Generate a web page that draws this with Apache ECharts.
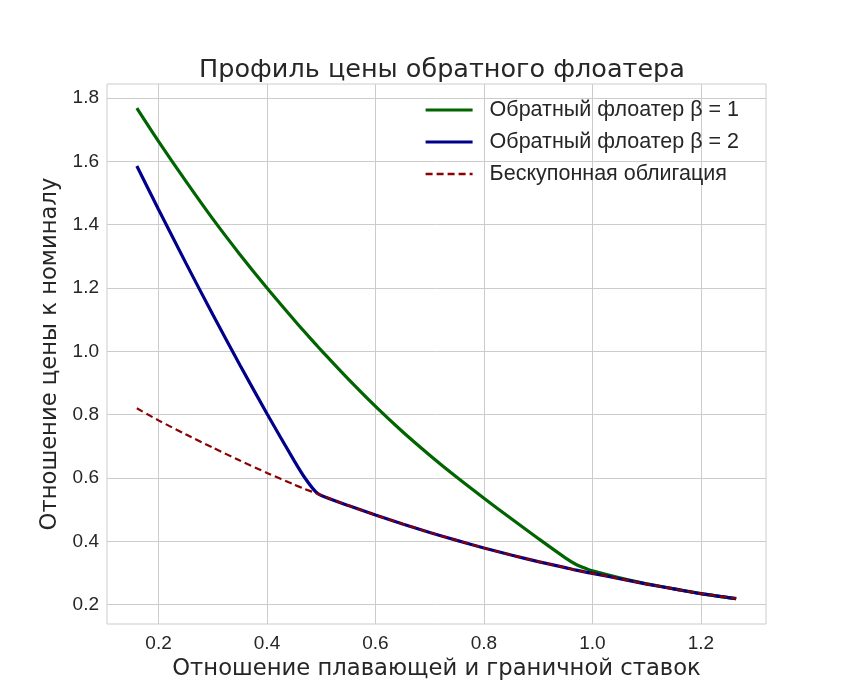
<!DOCTYPE html>
<html>
<head>
<meta charset="utf-8">
<script src="https://cdn.jsdelivr.net/npm/echarts@6/dist/echarts.min.js"></script>
<style>html,body{margin:0;padding:0;background:#fff}#c{width:851px;height:700px}</style>
</head>
<body>
<div id="c"></div>
<script>
const xs =      [0.16, 0.2,   0.25,  0.3,   0.35,  0.4,   0.45,  0.47,  0.49,  0.5,   0.55,  0.6,   0.65,  0.7,   0.75,  0.8,   0.85,  0.9,   0.95,  0.97,  0.99,  1.0,   1.05,  1.1,   1.15,  1.2,   1.265];
const floater1 = [1.768, 1.663, 1.538, 1.418, 1.306, 1.200, 1.099, 1.060, 1.022, 1.003, 0.912, 0.826, 0.746, 0.672, 0.602, 0.536, 0.472, 0.409, 0.348, 0.327, 0.313, 0.307, 0.285, 0.266, 0.250, 0.235, 0.219];
const floater2 = [1.585, 1.448, 1.280, 1.116, 0.957, 0.803, 0.655, 0.600, 0.556, 0.545, 0.513, 0.483, 0.455, 0.428, 0.403, 0.379, 0.357, 0.336, 0.317, 0.309, 0.302, 0.299, 0.282, 0.265, 0.250, 0.235, 0.219];
const perpetual = [0.820, 0.782, 0.738, 0.696, 0.655, 0.616, 0.579, 0.565, 0.552, 0.545, 0.513, 0.483, 0.455, 0.428, 0.403, 0.379, 0.357, 0.336, 0.317, 0.309, 0.302, 0.299, 0.282, 0.265, 0.250, 0.235, 0.219];
const xTicks = [0.2, 0.4, 0.6, 0.8, 1.0, 1.2];
const yTicks = [0.2, 0.4, 0.6, 0.8, 1.0, 1.2, 1.4, 1.6, 1.8];
const names = ['Обратный флоатер β = 1', 'Обратный флоатер β = 2', 'Бескупонная облигация'];

const pairs = ys => xs.map((x, i) => [x, ys[i]]);
const chart = echarts.init(document.getElementById('c'), null, {renderer: 'canvas'});
const labelFont = {fontFamily: 'Liberation Sans, Arial, sans-serif', fontSize: 19, color: '#262626'};
const nameFont = {fontFamily: 'DejaVu Sans, sans-serif', fontSize: 22.7, color: '#262626'};
chart.setOption({
  animation: false,
  backgroundColor: '#fff',
  title: {
    text: 'Профиль цены обратного флоатера',
    left: 437, top: 52, textAlign: 'center',
    textStyle: {fontFamily: 'DejaVu Sans, sans-serif', fontSize: 25.5, fontWeight: 'normal', color: '#262626'}
  },
  grid: {left: 107, top: 84, width: 659, height: 540, show: true, borderColor: '#cccccc', borderWidth: 1, backgroundColor: '#fff'},
  legend: {
    orient: 'vertical', left: 419, top: 94, itemWidth: 47, itemHeight: 14, itemGap: 10,
    itemStyle: {opacity: 0},
    textStyle: {fontFamily: 'Liberation Sans, Arial, sans-serif', fontSize: 21.5, color: '#262626', padding: [0, 0, 0, 12]},
    data: [
      {name: names[0], lineStyle: {width: 3.2}},
      {name: names[1], lineStyle: {width: 3.2}},
      {name: names[2], lineStyle: {width: 2.4}}
    ]
  },
  xAxis: {
    type: 'value', min: 0.105, max: 1.32,
    name: 'Отношение плавающей и граничной ставок', nameLocation: 'middle', nameGap: 34,
    nameTextStyle: nameFont,
    axisLine: {show: false}, axisTick: {show: false, customValues: xTicks},
    axisLabel: {customValues: xTicks, formatter: v => v.toFixed(1), margin: 10, ...labelFont},
    splitLine: {show: true, lineStyle: {color: '#cccccc', width: 1}}
  },
  yAxis: {
    type: 'value', min: 0.139, max: 1.844,
    name: 'Отношение цены к номиналу', nameLocation: 'middle', nameGap: 35,
    nameTextStyle: nameFont,
    axisLine: {show: false}, axisTick: {show: false, customValues: yTicks},
    axisLabel: {customValues: yTicks, formatter: v => v.toFixed(1), margin: 8, ...labelFont},
    splitLine: {show: true, lineStyle: {color: '#cccccc', width: 1}}
  },
  series: [
    {name: names[0], type: 'line', data: pairs(floater1), showSymbol: false, symbol: 'none', smooth: 0.3, lineStyle: {color: '#006400', width: 3.2}, itemStyle: {color: '#006400'}, z: 3},
    {name: names[1], type: 'line', data: pairs(floater2), showSymbol: false, symbol: 'none', smooth: 0.25, lineStyle: {color: '#00008b', width: 3.2}, itemStyle: {color: '#00008b'}, z: 4},
    {name: names[2], type: 'line', data: pairs(perpetual), showSymbol: false, symbol: 'none', smooth: 0.25, lineStyle: {color: '#8b0000', width: 2.2, type: [7, 4]}, itemStyle: {color: '#8b0000'}, z: 5}
  ]
});
</script>
</body>
</html>
